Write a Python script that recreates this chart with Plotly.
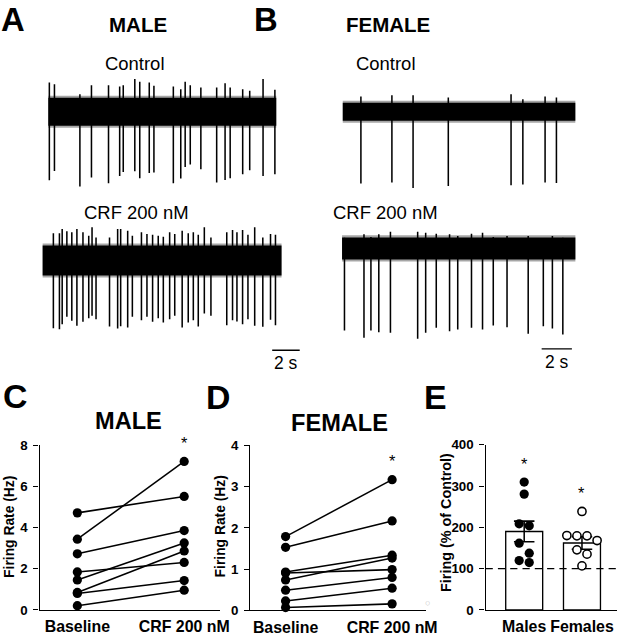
import plotly.graph_objects as go

# design size (px of the reference) and page scale used by the viewer
W, H = 617, 635
S = 633 / 617          # the viewer shrinks the page by 617/633
FONT = "Arial, Liberation Sans, sans-serif"


def z(v):
    return v * S


# ---------------- A / B : example recordings ----------------
# spike times (s), upward / downward spike amplitudes (a.u.), noise half-width (a.u.)
male_ctrl_duration = 16.56
male_ctrl_noise = 14
male_ctrl_t = [0.07, 0.44, 2.29, 3.13, 4.37, 5.18, 5.44, 6.28, 6.64, 7.33, 7.67, 9.08,
               9.62, 9.94, 10.31, 11.08, 12.23, 12.84, 13.21, 14.12, 14.63, 15.60, 16.46]
male_ctrl_up = [29.2, 27.5, 17.5, 26.5, 26.5, 25.2, 26.5, 32.5, 29.8, 29.2, 25.8, 25.2,
                22.5, 29.8, 26.5, 24.2, 24.2, 28.5, 24.2, 22.5, 20.8, 32.5, 21.8]
male_ctrl_down = [68.5, 59.2, 74.8, 65.8, 71.5, 64.2, 60.2, 59.5, 66.5, 61.2, 60.8, 71.5,
                  66.8, 55.2, 52.8, 57.5, 70.8, 68.2, 66.5, 62.5, 58.5, 64.2, 62.5]

male_crf_duration = 17.36
male_crf_noise = 15
male_crf_t = [0.78, 1.22, 1.42, 1.76, 2.12, 2.49, 2.93, 3.35, 3.59, 3.88, 4.86, 5.45, 5.67,
              6.18, 6.52, 7.18, 7.58, 7.99, 8.40, 8.77, 9.23, 9.60, 10.14, 10.58, 10.95,
              11.31, 11.75, 12.23, 13.38, 13.80, 14.12, 14.53, 14.92, 15.41, 16.00, 16.56, 16.92]
male_crf_up = [27, 27, 31.3, 29, 28, 31.3, 28, 24.7, 33, 23, 23, 31.3, 31.3, 29.7, 24.7, 28,
               26.3, 25.7, 24.7, 23.7, 28, 26.3, 29.7, 27, 28, 25.7, 33, 23, 28, 30.3, 28,
               30.3, 25.7, 33, 23, 26.3, 25.7]
male_crf_down = [67.7, 68.7, 63.7, 56.3, 60.3, 65.3, 61.3, 57.7, 55.3, 58.7, 66, 68, 65.7,
                 67, 56.3, 59.7, 56.3, 61.3, 57.7, 62, 58.7, 55.3, 67, 62, 59.7, 66, 53,
                 55.3, 64.7, 59.7, 61, 63.7, 58.7, 65.3, 66.3, 59.3, 64.7]

fem_ctrl_duration = 15.38
fem_ctrl_noise = 9
fem_ctrl_t = [1.20, 3.25, 4.65, 6.98, 11.13, 11.91, 13.38, 14.13]
fem_ctrl_up = [15.2, 16.5, 16.5, 14.2, 17.5, 12.5, 15.2, 14.2]
fem_ctrl_down = [71.8, 70.8, 76.2, 74.2, 73.5, 72.8, 70.8, 71.2]

fem_crf_duration = 15.43
fem_crf_noise = 11
fem_crf_t = [0.16, 1.45, 1.91, 2.43, 3.20, 5.00, 5.53, 6.23, 7.11, 7.65, 8.56, 9.29,
             10.00, 10.91, 12.31, 13.31, 13.91, 14.60]
fem_crf_up = [10.7, 14, 11.3, 14, 16.7, 16.7, 15.7, 14.7, 14, 12.3, 14.7, 15.7, 11.3,
              12.3, 12.3, 10, 12.3, 10.7]
fem_crf_down = [82, 89.3, 82, 83.7, 84.3, 90.3, 84.3, 79.3, 82.7, 81, 79.3, 81, 77, 78.7,
                85.3, 77.7, 80, 86]

scale_bar_s = 2

# ---------------- C / D : firing rate (Hz) ----------------
conditions = ["Baseline", "CRF 200 nM"]
male_baseline = [4.72, 3.44, 2.73, 1.85, 1.46, 0.85, 0.80, 0.21]
male_crf = [5.52, 7.22, 3.86, 2.31, 3.26, 2.87, 1.43, 0.96]
female_baseline = [1.79, 1.53, 0.93, 0.91, 0.74, 0.49, 0.23, 0.07]
female_crf = [3.17, 2.17, 1.34, 0.99, 1.27, 0.80, 0.54, 0.16]

# ---------------- E : firing (% of control) ----------------
groups = ["Males", "Females"]
males_pct = [309.5, 280.4, 208.5, 203.6, 161.6, 137.4, 119.6, 114.7]
females_pct = [238.4, 180.2, 179.4, 179.4, 168.1, 145.5, 135.0, 106.7]
mean_pct = [190, 162]
sem_pct = [25, 15]
control_level = 100

# ================= figure =================
fig = go.Figure()
layout = {}


def xdom(a, b):
    return [a / W, b / W]


def ydom(top, bottom):
    return [1 - bottom / H, 1 - top / H]


def axnames(n):
    s = "" if n == 1 else str(n)
    return "x" + s, "y" + s, "xaxis" + s, "yaxis" + s


# placement of each recording (design px): start x, px per second, baseline y
recordings = [
    (1, male_ctrl_duration, male_ctrl_noise, male_ctrl_t, male_ctrl_up, male_ctrl_down, 48.0, 13.65, 112.5),
    (2, male_crf_duration, male_crf_noise, male_crf_t, male_crf_up, male_crf_down, 42.3, 13.65, 261.0),
    (3, fem_ctrl_duration, fem_ctrl_noise, fem_ctrl_t, fem_ctrl_up, fem_ctrl_down, 340.0, 15.0, 112.5),
    (4, fem_crf_duration, fem_crf_noise, fem_crf_t, fem_crf_up, fem_crf_down, 339.3, 15.0, 249.0),
]
for n, dur, noise, ts, ups, downs, x0, pxps, yc in recordings:
    xa, ya, xl, yl = axnames(n)
    fig.add_trace(go.Scatter(x=[0, dur, dur, 0, 0],
                             y=[-noise - 2, -noise - 2, noise + 2, noise + 2, -noise - 2],
                             fill="toself", fillcolor="rgba(0,0,0,0.35)", mode="lines",
                             line=dict(width=0), xaxis=xa, yaxis=ya, hoverinfo="skip"))
    fig.add_trace(go.Scatter(x=[0, dur, dur, 0, 0], y=[-noise, -noise, noise, noise, -noise],
                             fill="toself", fillcolor="black", mode="lines",
                             line=dict(width=0), xaxis=xa, yaxis=ya, hoverinfo="skip"))
    sx, sy = [], []
    for t, u, d in zip(ts, ups, downs):
        sx += [t, t, None]
        sy += [u, -d, None]
    fig.add_trace(go.Scatter(x=sx, y=sy, mode="lines", line=dict(color="black", width=z(1.5)),
                             xaxis=xa, yaxis=ya, hoverinfo="skip"))
    layout[xl] = dict(domain=xdom(x0 - 10, x0 + 270), range=[-10 / pxps, 270 / pxps],
                      visible=False, fixedrange=True, anchor=ya)
    layout[yl] = dict(domain=ydom(yc - 60, yc + 120), range=[-120, 60],
                      visible=False, fixedrange=True, anchor=xa)

# scale bars (position in design px, length from data)
for n, bar_px, bar_level_px, x0, pxps, yc in [(2, 270.0, 350.7, 42.3, 13.65, 261.0),
                                             (4, 537.3, 349.3, 339.3, 15.0, 249.0)]:
    xa, ya, _, _ = axnames(n)
    ts = (bar_px - x0) / pxps
    lv = -(bar_level_px - yc)
    fig.add_trace(go.Scatter(x=[ts, ts + scale_bar_s], y=[lv, lv], mode="lines",
                             line=dict(color="black", width=z(1.3)), xaxis=xa, yaxis=ya,
                             hoverinfo="skip"))
    fig.add_annotation(x=ts + scale_bar_s / 2, y=lv, xref=xa, yref=ya, text=f"{scale_bar_s} s",
                       showarrow=False, yanchor="top", yshift=z(-1),
                       font=dict(family=FONT, size=z(17), color="black"))


# ---- C and D: paired lines ----
def paired(base, crf, n):
    px_, py_ = [], []
    for b, c in zip(base, crf):
        px_ += [0, 1, None]
        py_ += [b, c, None]
    fig.add_trace(go.Scatter(x=px_, y=py_, mode="lines+markers",
                             marker=dict(size=z(9), color="black"),
                             line=dict(color="black", width=z(1.5)),
                             xaxis=f"x{n}", yaxis=f"y{n}", cliponaxis=False, hoverinfo="skip"))
    fig.add_annotation(x=1, y=max(crf), xref=f"x{n}", yref=f"y{n}", text="*",
                       showarrow=False, yshift=z(18),
                       font=dict(family=FONT, size=z(16), color="black"))


paired(male_baseline, male_crf, 5)
paired(female_baseline, female_crf, 6)

tick_bold = dict(family=FONT, size=z(13), color="black", weight="bold")
cat_bold = dict(family=FONT, size=z(15.5), color="black", weight="bold")


def yax(dom, rng, tickvals, anchor):
    return dict(domain=dom, range=rng, tickvals=tickvals, ticks="outside", ticklen=z(5),
                tickwidth=z(1.3), tickcolor="black", showline=True, linecolor="black",
                linewidth=z(1.3), showgrid=False, zeroline=False, tickfont=tick_bold,
                anchor=anchor, fixedrange=True, ticklabelstandoff=3)


def xax(dom, rng, tickvals, ticktext, anchor):
    return dict(domain=dom, range=rng, tickvals=tickvals, ticktext=ticktext, ticks="",
                showline=True, linecolor="black", linewidth=z(1.3), showgrid=False,
                zeroline=False, tickfont=cat_bold, anchor=anchor, fixedrange=True,
                ticklabelstandoff=2)


layout["xaxis5"] = xax(xdom(39.3, 218), [-0.353, 1.333], [0, 1], conditions, "y5")
layout["yaxis5"] = yax(ydom(445.7, 610), [0, 8], [0, 2, 4, 6, 8], "x5")
layout["xaxis6"] = xax(xdom(248.3, 423), [-0.331, 1.322], [0, 1], conditions, "y6")
layout["yaxis6"] = yax(ydom(445.7, 610.5), [0, 4], [0, 1, 2, 3, 4], "x6")

# ---- E: bars + dots ----
e_xdom = (481.7, 613)
e_xrange = [-0.668, 1.623]
e_ydom = (445, 610)
e_yrange = [0, 400]
layout["xaxis7"] = xax(xdom(*e_xdom), e_xrange, [0, 1], groups, "y7")
layout["yaxis7"] = yax(ydom(*e_ydom), e_yrange, [0, 100, 200, 300, 400], "x7")

fig.add_trace(go.Bar(x=[0, 1], y=mean_pct, width=0.64, xaxis="x7", yaxis="y7",
                     marker=dict(color="white", line=dict(color="black", width=z(1.3))),
                     error_y=dict(type="data", array=sem_pct, color="black",
                                  thickness=z(1.5), width=z(10)), hoverinfo="skip"))

x_px_per_unit = (e_xdom[1] - e_xdom[0]) / (e_xrange[1] - e_xrange[0])
y_px_per_unit = (e_ydom[1] - e_ydom[0]) / (e_yrange[1] - e_yrange[0])


def swarm(vals, center, diam=10.0):
    order = sorted(range(len(vals)), key=lambda i: -vals[i])
    clusters = []
    for i in order:
        if clusters and (vals[clusters[-1][0]] - vals[i]) * y_px_per_unit < diam:
            clusters[-1].append(i)
        else:
            clusters.append([i])
    xs = [center] * len(vals)
    for cl in clusters:
        k = len(cl)
        for j, i in enumerate(cl):
            xs[i] = center + (j - (k - 1) / 2) * diam / x_px_per_unit
    return xs


fig.add_trace(go.Scatter(x=swarm(males_pct, 0), y=males_pct, mode="markers",
                         marker=dict(size=z(9), color="black"), xaxis="x7", yaxis="y7",
                         cliponaxis=False, hoverinfo="skip"))
fig.add_trace(go.Scatter(x=swarm(females_pct, 1), y=females_pct, mode="markers",
                         marker=dict(size=z(8), color="white",
                                     line=dict(color="black", width=z(1.5))),
                         xaxis="x7", yaxis="y7", cliponaxis=False, hoverinfo="skip"))
for i, vals in enumerate([males_pct, females_pct]):
    fig.add_annotation(x=i, y=max(vals), xref="x7", yref="y7", text="*", showarrow=False,
                       yshift=z(18), font=dict(family=FONT, size=z(16), color="black"))

fig.add_shape(type="line", xref="x7 domain", x0=0, x1=1, yref="y7",
              y0=control_level, y1=control_level,
              line=dict(color="black", width=z(1.3), dash=f"{z(7):.1f}px,{z(5):.1f}px"))


# ---- text labels (design px positions) ----
def label(text, x, y, size, bold=False, angle=0, color="black", anchor="middle"):
    fig.add_annotation(x=x / W, y=1 - y / H, xref="paper", yref="paper", text=text,
                       showarrow=False, xanchor="center", yanchor=anchor, textangle=angle,
                       font=dict(family=FONT, size=z(size), color=color,
                                 weight="bold" if bold else "normal"))


label("A", 12.5, 0, 32, True, anchor="top")
label("B", 264.3, 0, 32, True, anchor="top")
label("MALE", 136.7, 25.3, 20, True)
label("FEMALE", 385, 25, 20, True)
label("Control", 134, 64, 18)
label("Control", 382.5, 64, 18)
label("CRF 200 nM", 135, 213, 18)
label("CRF 200 nM", 382, 213, 18)
label("C", 15, 396.7, 33, True)
label("D", 216.7, 397, 33, True)
label("E", 431.7, 397, 33, True)
label("MALE", 127, 421.7, 23, True)
label("FEMALE", 336.7, 423, 23, True)
label("Firing Rate (Hz)", 8.3, 526.7, 13.5, True, -90)
label("Firing Rate (Hz)", 218.3, 526.5, 13.5, True, -90)
label("Firing (% of Control)", 443, 522.5, 14, True, -90)
label("○", 425, 603, 9, False, 0, "#c0c0c0")

fig.update_layout(width=round(W * S), height=round(H * S), margin=dict(l=0, r=0, t=0, b=0),
                  paper_bgcolor="white", plot_bgcolor="rgba(0,0,0,0)",
                  showlegend=False, **layout)

# pin the figure to the corner of the page, compensating the viewer's 8 px top offset
pin = ("document.body.style.margin='0';"
       "document.documentElement.style.overflow='hidden';"
       "var d=document.getElementById('{plot_id}');"
       "d.style.position='fixed';d.style.left='0px';d.style.top='-8px';")
fig.write_html("out.html", post_script=pin, config={"displayModeBar": False})
